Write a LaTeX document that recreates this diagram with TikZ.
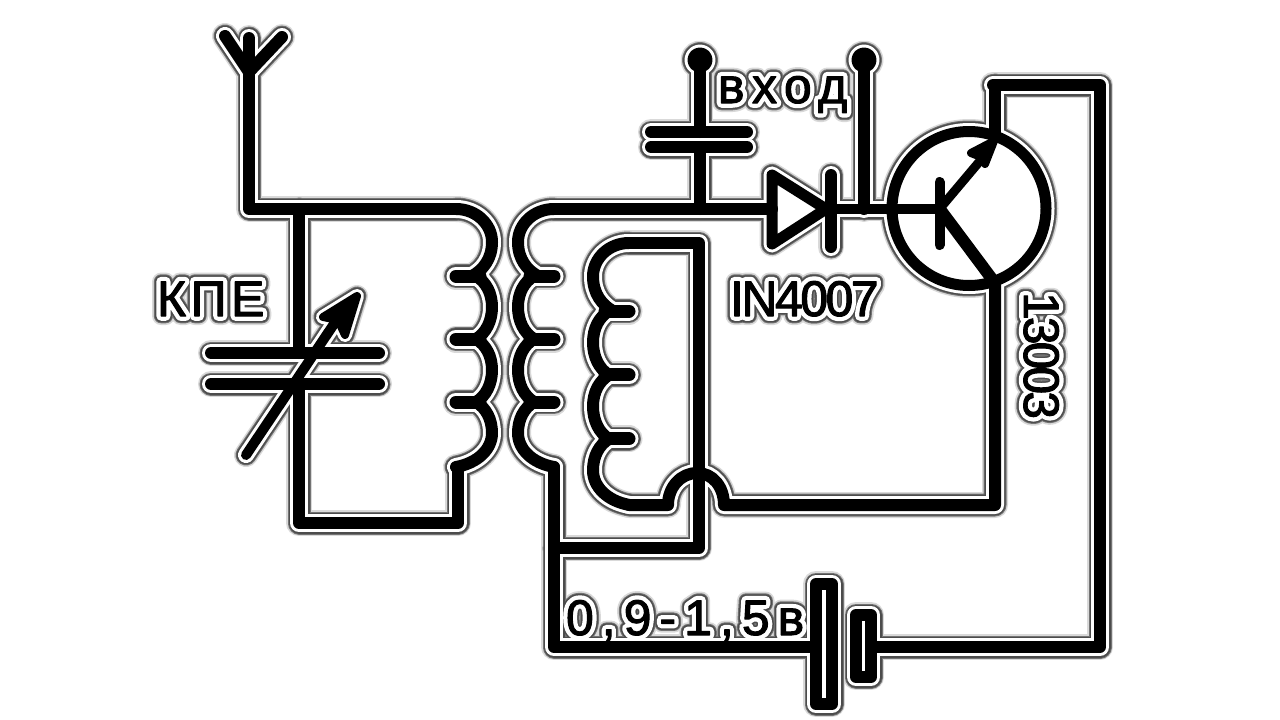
\documentclass[tikz,border=0pt]{standalone}
\usepackage{fontspec}
\setmainfont{Liberation Sans}
\newfontfamily\fa[FakeBold=36]{Liberation Sans}
\newfontfamily\fb[FakeBold=29]{Liberation Sans}
\newfontfamily\fc[FakeBold=25]{Liberation Sans}
\newfontfamily\fd[FakeBold=19]{Liberation Sans}
\newfontfamily\fe[FakeBold=2]{Liberation Sans}
\tikzset{
  w/.style={line width=#1+\ex},
  txt/.style={inner sep=0pt,outer sep=0pt,anchor=base west,text=\lc},
}
\newcommand\lbl[6]{\node[txt,rotate=#3] at (#2) {\lf\fontsize{#4}{#4}\selectfont\addfontfeature{LetterSpace=#5}#6};}
\newcommand\coilbody{%
  \draw[w=12] (0,0) .. controls (20,0) and (36,15) .. (36,33) .. controls (36,50) and (27,61) .. (16,67);
  \draw[w=13] (0,67) -- (24,67);
  \draw[w=12] (20,67) .. controls (30,73) and (36,84) .. (36,98) .. controls (36,112) and (30,124) .. (20,130);
  \draw[w=13] (0,130) -- (24,130);
  \draw[w=12] (20,130) .. controls (30,136) and (36,147) .. (36,161) .. controls (36,175) and (30,187) .. (20,193);
  \draw[w=13] (0,193) -- (24,193);
  \draw[w=12] (20,193) .. controls (30,199) and (36,210) .. (36,224) .. controls (36,240) and (22,254) .. (0,258);
}
\newcommand\everything{%
  % antenna
  \draw[w=12] (225,36) -- (249,72) -- (282,37);
  \draw[w=12] (249,38) -- (249,209) -- (456,209);
  % coils
  \begin{scope}[shift={(456,209)}]\coilbody\end{scope}
  \begin{scope}[shift={(554,209)},xscale=-1]\coilbody\end{scope}
  \begin{scope}[shift={(629,243)},xscale=-1,yscale=1.015]\coilbody\end{scope}
  % tuned loop
  \draw[w=12] (458,467) -- (458,523) -- (299,523) -- (299,384);
  \draw[w=12] (299,353) -- (299,209);
  \draw[w=12] (211,353) -- (379,353);
  \draw[w=12] (211,384) -- (379,384);
  \draw[w=10] (246,455) -- (340,315);
  \draw[w=8,fill=\lc,line join=round] (357,296) -- (323,317) -- (338,320) -- (345,335) -- cycle;
  % secondary to diode
  \draw[w=12] (554,209) -- (772,209);
  \draw[w=12] (700,60) -- (700,132);
  \draw[w=12] (700,147) -- (700,209);
  \draw[w=12] (651,132) -- (747,132);
  \draw[w=12] (651,147) -- (747,147);
  \draw[w=12,fill=\lc] (700,60) circle[radius=6.5];
  \draw[w=12] (864,60) -- (864,209);
  \draw[w=12,fill=\lc] (864,60) circle[radius=6.5];
  % coil 3
  \draw[w=12] (629,243) -- (699,243) -- (699,548) -- (554,548);
  \draw[w=12] (629,505) -- (668,505) .. controls (668,487) and (681,473) .. (697,473) .. controls (713,473) and (724,487) .. (724,505) -- (995,505) -- (995,283) -- (942,212);
  \draw[w=12] (554,467) -- (554,647) -- (810,647);
  \draw[w=12] (877,647) -- (1100,647) -- (1100,85) -- (993,85);
  \draw[w=12] (995,85) -- (995,137);
  % diode
  \draw[w=11,hollow] (772,175) -- (826,209) -- (772,244) -- cycle;
  \draw[w=12] (831,175) -- (831,247);
  % transistor
  \draw[w=11,hollow] (969,208.5) circle[radius=77];
  \draw[w=10] (831,209) -- (939,209);
  \draw[w=10] (939.5,182) -- (939.5,245);
  \draw[w=9] (942,206) -- (985,155);
  \draw[w=8,fill=\lc] (994,141) -- (971,153) -- (981,157) -- (985,164) -- cycle;
  % battery
  \draw[w=12,hollow] (816,584) rectangle (832,704);
  \draw[w=12,hollow] (856,615) rectangle (871,677);
  % labels
  \lbl{\nm{kpe}}{157,316}{0}{50}{9}{КПЕ}
  \lbl{\nm{vhod}}{718,103}{0}{50}{15}{вход}
  \lbl{\nm{diode}}{730,316}{0}{50}{-5}{IN4007}
  \lbl{\nm{tr}}{1024,292}{-90}{50}{-6}{13003}
  \lbl{\nm{bat}}{566,635}{0}{50}{16}{0,9-1,5в}
}
\newcommand\layer[4]{%
  \def\lc{#1}\def\ex{#2}\let\lf#3%
  \tikzset{hollow/.style={fill=#4}}%
  \begin{scope}[draw=#1]\everything\end{scope}
}
\begin{document}
\begin{tikzpicture}[x=1pt,y=-1pt,line cap=round,line join=round]
\useasboundingbox (0,0) rectangle (1280,720);
\fill[white] (0,0) rectangle (1280,720);
\colorlet{haloA}{black!15}
\colorlet{haloB}{black!55}
\colorlet{haloC}{black!70}
\colorlet{haloD}{white}
\def\nm#1{}
\layer{haloA}{14pt}{\fa}{haloA}
\layer{haloB}{11pt}{\fb}{haloB}
\layer{haloC}{9pt}{\fc}{haloC}
\layer{haloD}{6pt}{\fd}{haloD}
\layer{black}{0pt}{\fe}{none}
\end{tikzpicture}
\end{document}
